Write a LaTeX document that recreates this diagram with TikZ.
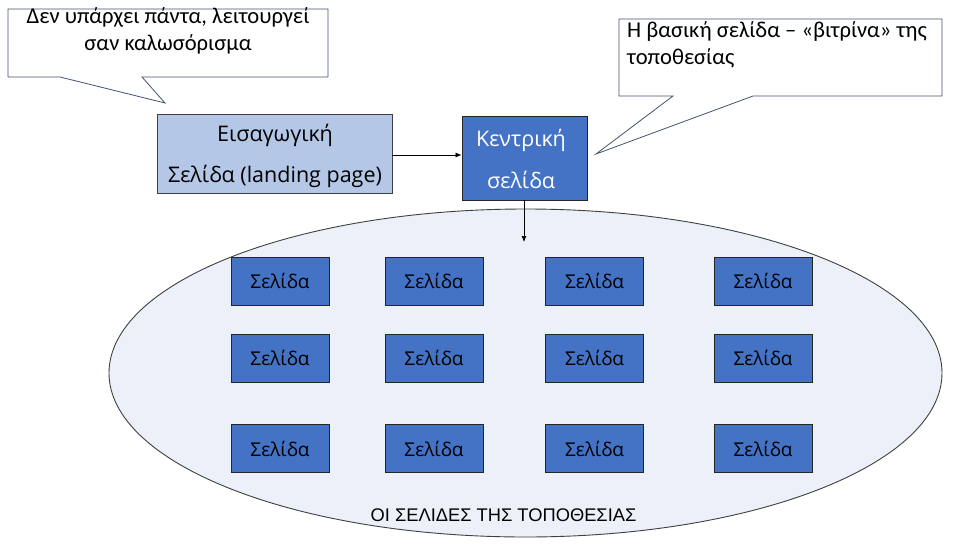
\documentclass[tikz,border=0pt]{standalone}
\usepackage{fontspec}
\setmainfont{Carlito}
\newfontfamily\boxfont{Open Sans}
\newfontfamily\arialfont{Liberation Sans}
\usetikzlibrary{shapes.geometric,arrows.meta}
\definecolor{lightblue}{HTML}{B4C7E7}
\definecolor{midblue}{HTML}{4472C4}
\definecolor{ellfill}{HTML}{ECF0F8}
\definecolor{callline}{HTML}{44546A}
\begin{document}
\begin{tikzpicture}[x=1pt,y=-1pt,
  callout/.style={draw=callline,fill=white,line width=0.8pt,line join=miter},
  calltext/.style={font=\fontsize{22.6}{26.5}\selectfont,align=center,inner sep=0pt},
  pagebox/.style={draw=black!85,fill=midblue,line width=0.8pt,minimum width=98pt,minimum height=48pt,inner sep=0pt,font=\boxfont\fontsize{19}{22}\selectfont},
  conn/.style={line width=0.7pt,-{Latex[length=6pt,width=5pt]}}]
\useasboundingbox (0,0) rectangle (958,549);
\fill[white] (0,0) rectangle (958,549);
% site ellipse
\node[ellipse,draw=black!75,fill=ellfill,line width=0.9pt,minimum width=833pt,minimum height=328pt,inner sep=0pt] (site) at (525.5,373) {};
\node[font=\arialfont\fontsize{18.3}{20}\selectfont,inner sep=0pt] (sitelbl) at (503.5,515) {ΟΙ ΣΕΛΙΔΕΣ ΤΗΣ ΤΟΠΟΘΕΣΙΑΣ};
% callout 1
\draw[callout] (8,9) -- (328,9) -- (328,77) -- (142,77) -- (165,103) -- (60,77) -- (8,77) -- cycle;
\node[calltext] (c1) at (168,31) {Δεν υπάρχει πάντα, λειτουργεί\\σαν καλωσόρισμα};
% callout 2
\draw[callout] (619,19) -- (942,19) -- (942,96) -- (753,96) -- (596,154) -- (673,96) -- (619,96) -- cycle;
\node[calltext,align=left,anchor=west] (c2) at (627,45) {Η βασική σελίδα – «βιτρίνα» της\\τοποθεσίας};
% landing and central
\node[draw=black!75,fill=lightblue,line width=0.8pt,minimum width=235pt,minimum height=79pt,inner sep=0pt] (landing) at (274.5,153.5) {};
\node[align=center,inner sep=0pt,font=\boxfont\fontsize{21.5}{41}\selectfont] (landingtxt) at (275,156) {Εισαγωγική\\Σελίδα (landing page)};
\node[draw=black!85,fill=midblue,line width=0.8pt,minimum width=125pt,minimum height=84pt,inner sep=0pt] (central) at (524.5,158) {};
\node[text=white,align=center,inner sep=0pt,font=\boxfont\fontsize{21.5}{42}\selectfont] (centraltxt) at (521,159) {Κεντρική\\σελίδα};
\coordinate (downend) at (524,242);
\draw[conn] (landing.east |- 0,155) -- (central.west |- 0,155);
\draw[conn] (central.south -| downend) -- (downend);
% pages
\foreach \r/\y in {1/281,2/358,3/448.5}{
  \foreach \c/\x in {1/280,2/434,3/594.5,4/763}{
    \node[pagebox] (p\r\c) at (\x,\y) {Σελίδα};
  }
}
\end{tikzpicture}
\end{document}
